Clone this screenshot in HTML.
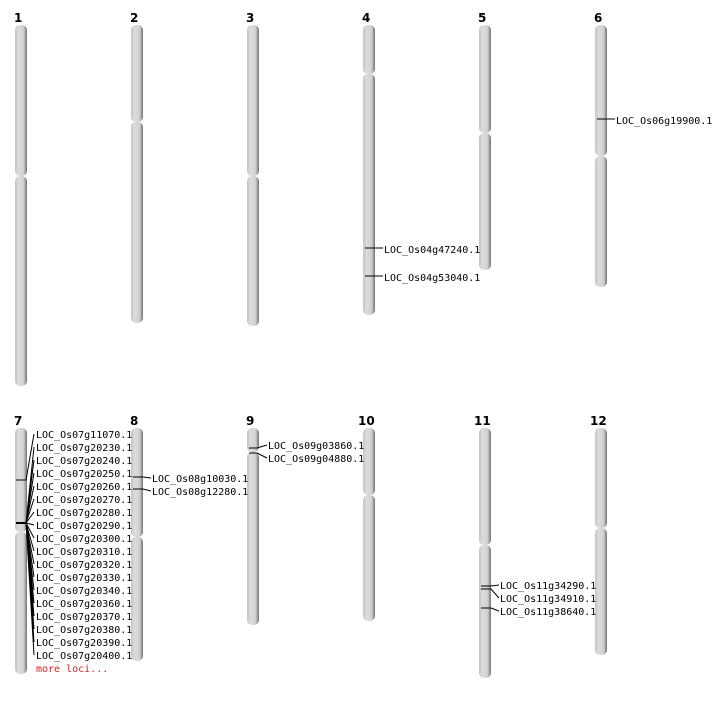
<!DOCTYPE html>
<html><head><meta charset="utf-8"><style>
body{margin:0;background:#fff;width:712px;height:700px;overflow:hidden}
svg text{font-family:"DejaVu Sans Mono","Liberation Mono",monospace;font-size:10px;fill:#000}
.n{font-family:"DejaVu Sans","Liberation Sans",sans-serif;font-weight:bold;font-size:12px}
</style></head><body>
<svg width="712" height="700" xmlns="http://www.w3.org/2000/svg">
<defs><linearGradient id="g" x1="0" x2="1" y1="0" y2="0">
<stop offset="0" stop-color="#c4c4c4"/><stop offset="0.3" stop-color="#dcdcdc"/><stop offset="0.7" stop-color="#d2d2d2"/><stop offset="0.85" stop-color="#a8a8a8"/><stop offset="1" stop-color="#6e6e6e"/></linearGradient></defs>
<g fill="url(#g)">
<rect x="15" y="25" width="12" height="151" rx="5"/><rect x="15" y="176" width="12" height="210" rx="5"/>
<rect x="131" y="25" width="12" height="97" rx="5"/><rect x="131" y="122" width="12" height="201" rx="5"/>
<rect x="247" y="25" width="12" height="151" rx="5"/><rect x="247" y="176" width="12" height="150" rx="5"/>
<rect x="363" y="25" width="12" height="49" rx="5"/><rect x="363" y="74" width="12" height="241" rx="5"/>
<rect x="479" y="25" width="12" height="108" rx="5"/><rect x="479" y="133" width="12" height="137" rx="5"/>
<rect x="595" y="25" width="12" height="131" rx="5"/><rect x="595" y="156" width="12" height="131" rx="5"/>
<rect x="15" y="428" width="12" height="104" rx="5"/><rect x="15" y="532" width="12" height="142" rx="5"/>
<rect x="131" y="428" width="12" height="109" rx="5"/><rect x="131" y="537" width="12" height="124" rx="5"/>
<rect x="247" y="428" width="12" height="24" rx="5"/><rect x="247" y="452" width="12" height="173" rx="5"/>
<rect x="363" y="428" width="12" height="67" rx="5"/><rect x="363" y="495" width="12" height="126" rx="5"/>
<rect x="479" y="428" width="12" height="117" rx="5"/><rect x="479" y="545" width="12" height="133" rx="5"/>
<rect x="595" y="428" width="12" height="100" rx="5"/><rect x="595" y="528" width="12" height="127" rx="5"/>
</g>
<g class="n">
<text class="n" x="14" y="22">1</text><text class="n" x="130" y="22">2</text><text class="n" x="246" y="22">3</text><text class="n" x="362" y="22">4</text><text class="n" x="478" y="22">5</text><text class="n" x="594" y="22">6</text>
<text class="n" x="14" y="425">7</text><text class="n" x="130" y="425">8</text><text class="n" x="246" y="425">9</text><text class="n" x="358" y="425">10</text><text class="n" x="474" y="425">11</text><text class="n" x="590" y="425">12</text>
</g>
<g stroke="#000" stroke-width="1" fill="none">
<path d="M365 248H383M365 276H383"/>
<path d="M597 119H615"/>
<path d="M133 477H143L151 478M133 489H143L151 491"/>
<path d="M249 448H257L267 445M249 453H257L267 458"/>
<path d="M481 586H491L499 585M481 589H491L499 598M481 608H491L499 611"/>
<path d="M16 480H26L34 434"/>
<path d="M16 523H26" stroke-width="2"/>
<path d="M26 523L34 447M26 523L34 460M26 523L34 473M26 523L34 486M26 523L34 499M26 523L34 512M26 523L34 525M26 523L34 538M26 523L34 551M26 523L34 564M26 523L34 577M26 523L34 590M26 523L34 603M26 523L34 616M26 523L34 629M26 523L34 642M26 523L34 655"/>
</g>
<text x="384" y="253">LOC_Os04g47240.1</text><text x="384" y="281">LOC_Os04g53040.1</text>
<text x="616" y="124">LOC_Os06g19900.1</text>
<text x="152" y="482">LOC_Os08g10030.1</text><text x="152" y="495">LOC_Os08g12280.1</text>
<text x="268" y="449">LOC_Os09g03860.1</text><text x="268" y="462">LOC_Os09g04880.1</text>
<text x="500" y="589">LOC_Os11g34290.1</text><text x="500" y="602">LOC_Os11g34910.1</text><text x="500" y="615">LOC_Os11g38640.1</text>
<g>
<text x="36" y="438">LOC_Os07g11070.1</text><text x="36" y="451">LOC_Os07g20230.1</text><text x="36" y="464">LOC_Os07g20240.1</text><text x="36" y="477">LOC_Os07g20250.1</text><text x="36" y="490">LOC_Os07g20260.1</text><text x="36" y="503">LOC_Os07g20270.1</text><text x="36" y="516">LOC_Os07g20280.1</text><text x="36" y="529">LOC_Os07g20290.1</text><text x="36" y="542">LOC_Os07g20300.1</text><text x="36" y="555">LOC_Os07g20310.1</text><text x="36" y="568">LOC_Os07g20320.1</text><text x="36" y="581">LOC_Os07g20330.1</text><text x="36" y="594">LOC_Os07g20340.1</text><text x="36" y="607">LOC_Os07g20360.1</text><text x="36" y="620">LOC_Os07g20370.1</text><text x="36" y="633">LOC_Os07g20380.1</text><text x="36" y="646">LOC_Os07g20390.1</text><text x="36" y="659">LOC_Os07g20400.1</text>
<text x="36" y="672" style="fill:#d02020">more loci...</text>
</g>
</svg>
</body></html>
